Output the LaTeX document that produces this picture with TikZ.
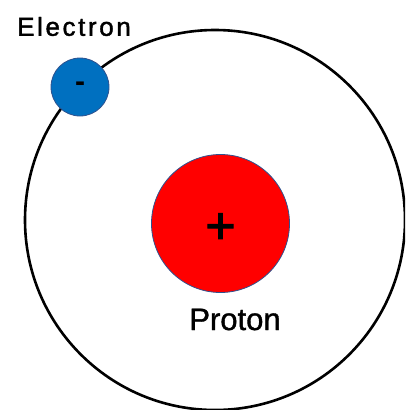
\documentclass[tikz,border=0pt]{standalone}
\usepackage{fontspec}
\setmainfont{Liberation Sans}
\definecolor{electronblue}{HTML}{0070C0}
\definecolor{rimblue}{HTML}{2F528F}
\begin{document}
\begin{tikzpicture}[x=1pt, y=-1pt,
  orbit/.style={circle, draw, line width=2.6pt, minimum size=380pt, inner sep=0pt},
  particle/.style={circle, draw=rimblue, line width=0.8pt, fill=#1, inner sep=0pt},
  label/.style={inner sep=0pt}
]
  \useasboundingbox (0,0) rectangle (405,410);
  \clip (0,0) rectangle (405,410);
  \node[orbit] (orbit) at (215,220) {};
  \node[particle=red, minimum size=138pt] (proton) at (220.5,223.5) {\fontsize{52}{52}\selectfont\addfontfeature{FakeBold=2}\raisebox{-20pt}[0pt][0pt]{+}};
  \node[particle=electronblue, minimum size=58pt] (electron) at (80,87) {\fontsize{30}{30}\selectfont\bfseries -};

  % Labels
  \node[label, font=\fontsize{31}{31}\selectfont\addfontfeature{FakeBold=1.2}] (protonlabel) at (235,319.5) {Proton};
  \node[label, font=\fontsize{26}{26}\selectfont\addfontfeature{LetterSpace=10,FakeBold=1.5}] (electronlabel) at (74,26.5) {Electron};
\end{tikzpicture}
\end{document}
